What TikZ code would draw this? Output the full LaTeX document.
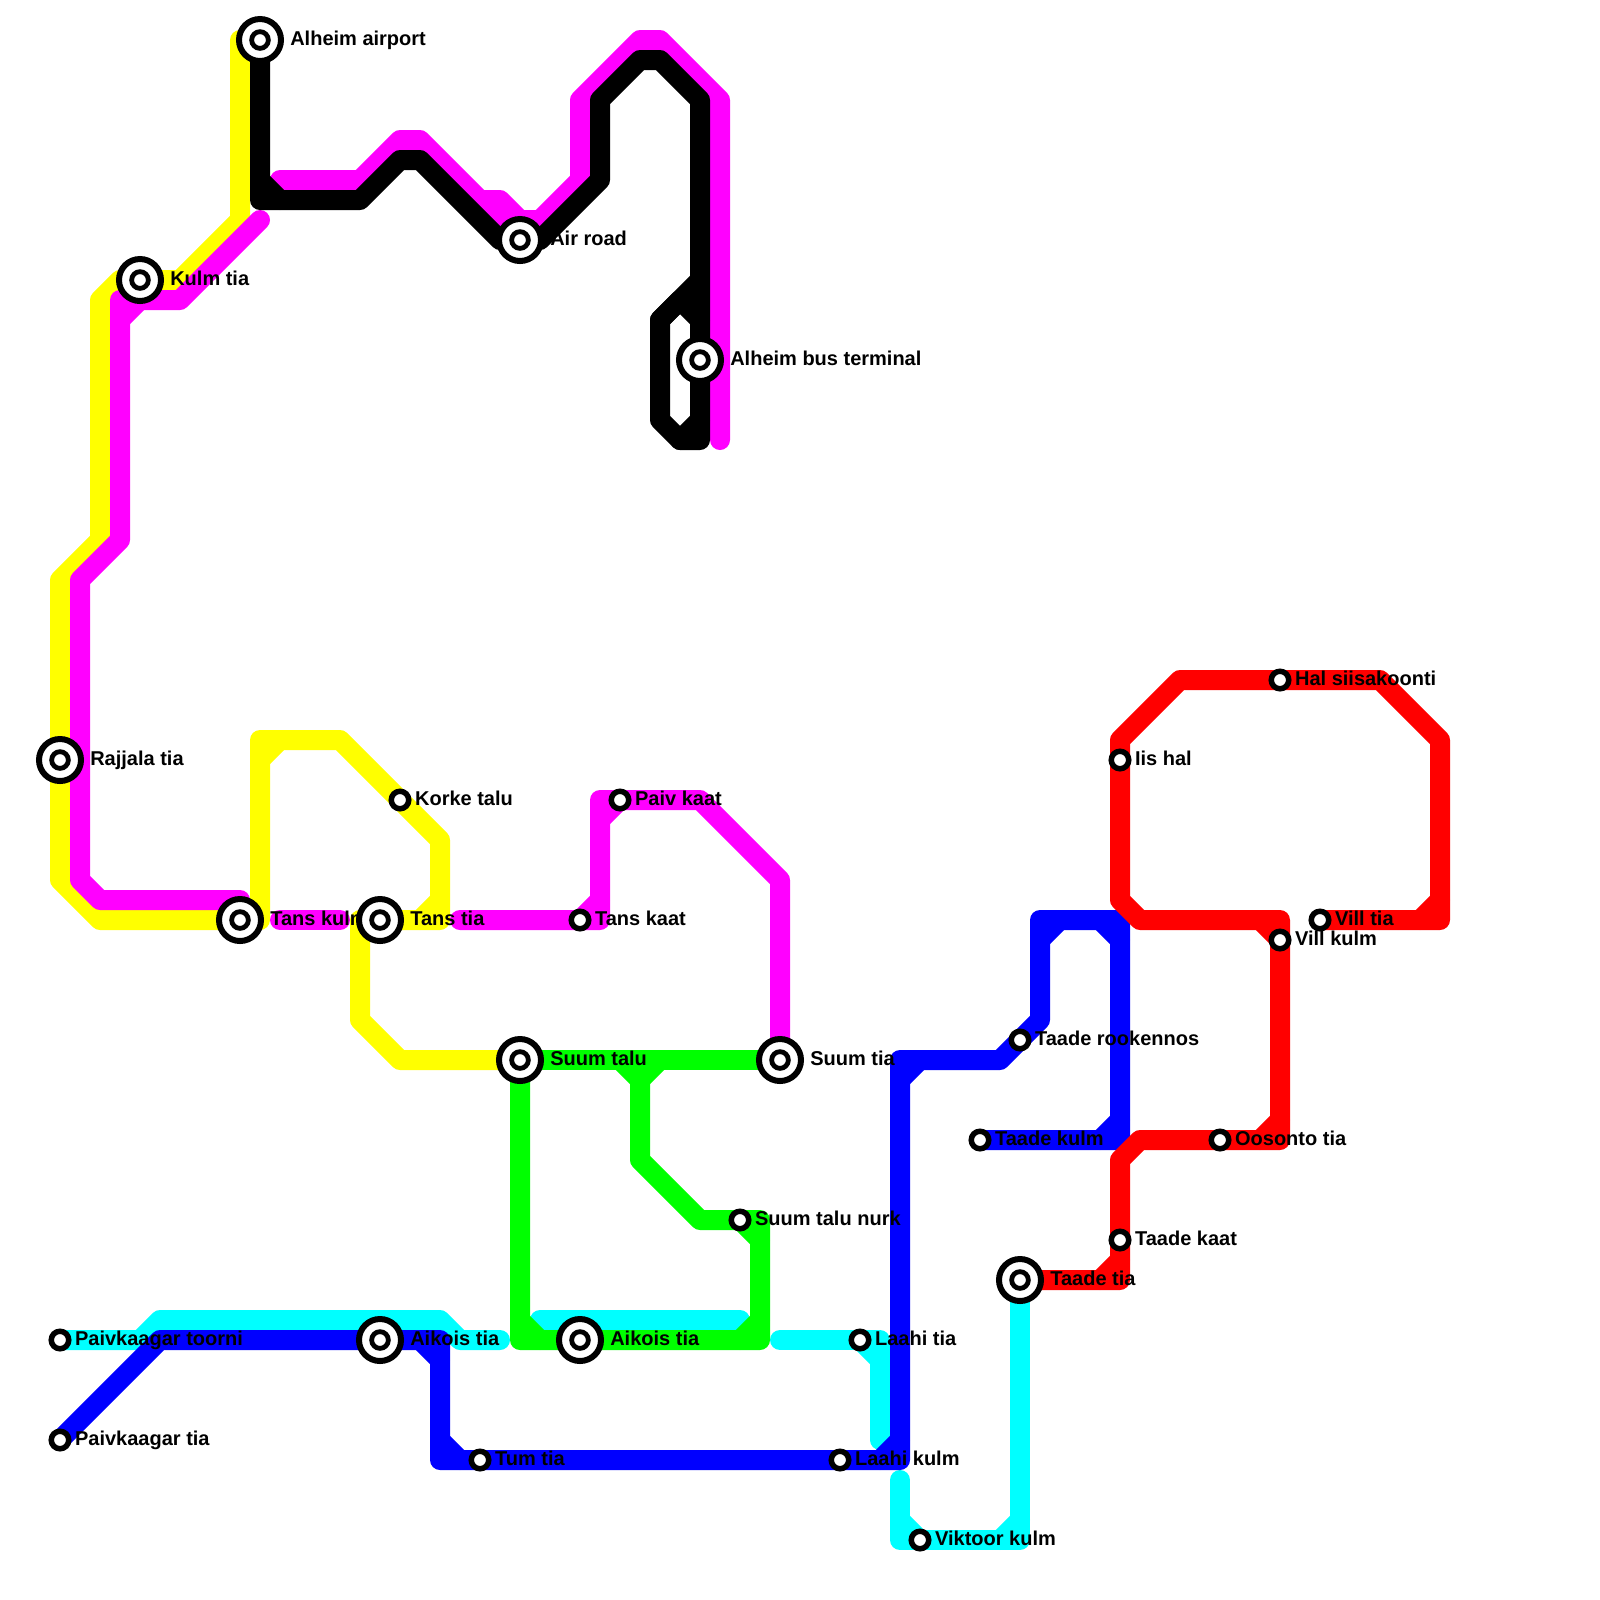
\documentclass[tikz,border=0pt]{standalone}
\usepackage{fontspec}
\setmainfont{Liberation Sans}
\usetikzlibrary{backgrounds}

\definecolor{lineyellow}{RGB}{255,255,0}
\definecolor{linemagenta}{RGB}{255,0,255}
\definecolor{linecyan}{RGB}{0,255,255}
\definecolor{lineblue}{RGB}{0,0,255}
\definecolor{linered}{RGB}{255,0,0}
\definecolor{linegreen}{RGB}{0,255,0}

\tikzset{
  route/.style={line width=0.2cm, line cap=round, line join=round},
  bigstop/.style={circle, draw=black, fill=white, line width=0.06cm, inner sep=0pt, outer sep=0pt, minimum size=0.42cm},
  bigcore/.style={circle, draw=black, fill=white, line width=0.048cm, inner sep=0pt, outer sep=0pt, minimum size=0.167cm},
  smallstop/.style={circle, draw=black, fill=white, line width=0.055cm, inner sep=0pt, outer sep=0pt, minimum size=0.175cm},
  stoplabel/.style={anchor=base west, inner sep=0pt, font=\bfseries\fontsize{5.69}{6}\selectfont},
}

\begin{document}
\begin{tikzpicture}[x=0.2cm, y=-0.2cm]
  \useasboundingbox (0,0) rectangle (80,80);

  % interchange stops
  \foreach \id/\sx/\sy/\txt in {airport/13/2/Alheim airport, kulmtia/7/14/Kulm tia,
      airroad/26/12/Air road, busterminal/35/18/Alheim bus terminal, rajjala/3/38/Rajjala tia,
      tanskulm/12/46/Tans kulm, tanstia/19/46/Tans tia, suumtalu/26/53/Suum talu,
      suumtia/39/53/Suum tia, aikoisa/19/67/Aikois tia, aikoisb/29/67/Aikois tia,
      taadetia/51/64/Taade tia} {
    \node[stoplabel] (\id-text) at (\sx+1.48,\sy+0.265) {\txt};
    \node[bigstop] (\id) at (\sx,\sy) {};
    \node[bigcore] (\id-core) at (\sx,\sy) {};
  }

  % plain stops
  \foreach \id/\sx/\sy/\txt in {korke/20/40/Korke talu, paivkaat/31/40/Paiv kaat,
      tanskaat/29/46/Tans kaat, rookennos/51/52/Taade rookennos, taadekulm/49/57/Taade kulm,
      iishal/56/38/Iis hal, halsiisa/64/34/Hal siisakoonti, villtia/66/46/Vill tia,
      villkulm/64/47/Vill kulm, oosonto/61/57/Oosonto tia, talunurk/37/61/Suum talu nurk,
      taadekaat/56/62/Taade kaat, laahitia/43/67/Laahi tia, laahikulm/42/73/Laahi kulm,
      tumtia/24/73/Tum tia, toorni/3/67/Paivkaagar toorni, paivtia/3/72/Paivkaagar tia,
      viktoor/46/77/Viktoor kulm} {
    \node[stoplabel] (\id-text) at (\sx+0.72,\sy+0.265) {\txt};
    \node[smallstop] (\id) at (\sx,\sy) {};
  }

  \begin{scope}[on background layer]
    % cyan lines
    \draw[route, linecyan] (toorni.center) -- (7,67) -- (8,66) -- (22,66) -- (23,67) -- (25,67);
    \draw[route, linecyan] (27,66) -- (37,66);
    \draw[route, linecyan] (39,67) -- (44,67) -- (44,72);
    \draw[route, linecyan] (43,67) -- (44,68);
    \draw[route, linecyan] (45,74) -- (45,77) -- (51,77) -- (taadetia.center);
    \draw[route, linecyan] (45,76) -- (46,77);
    \draw[route, linecyan] (51,76) -- (50,77);

    % yellow lines
    \draw[route, lineyellow] (12,2) -- (12,11) -- (9,14) -- (6,14) -- (5,15) -- (5,27) -- (3,29)
      -- (3,44) -- (5,46) -- (13,46) -- (13,37) -- (17,37) -- (22,42) -- (22,46) -- (tanstia.center);
    \draw[route, lineyellow] (13,38) -- (14,37);
    \draw[route, lineyellow] (22,45) -- (21,46);
    \draw[route, lineyellow] (tanstia.center) -- (18,46) -- (18,51) -- (20,53) -- (suumtalu.center);

    % magenta lines
    \draw[route, linemagenta] (14,9) -- (18,9) -- (20,7) -- (21,7) -- (24,10) -- (25,10) -- (26,11)
      -- (27,11) -- (29,9) -- (29,5) -- (32,2) -- (33,2) -- (36,5) -- (36,22);
    \draw[route, linemagenta] (24,10) -- (26,12);
    \draw[route, linemagenta] (13,11) -- (9,15) -- (6,15) -- (6,27) -- (4,29) -- (4,44) -- (5,45) -- (12,45);
    \draw[route, linemagenta] (7,15) -- (6,16);
    \draw[route, linemagenta] (14,46) -- (17,46);
    \draw[route, linemagenta] (23,46) -- (30,46) -- (30,40) -- (35,40) -- (39,44) -- (suumtia.center);
    \draw[route, linemagenta] (30,41) -- (31,40);
    \draw[route, linemagenta] (29,46) -- (30,45);

    % blue lines
    \draw[route, lineblue] (paivtia.center) -- (8,67) -- (22,67) -- (22,73) -- (45,73) -- (45,53)
      -- (50,53) -- (52,51) -- (52,46) -- (56,46) -- (56,57) -- (taadekulm.center);
    \draw[route, lineblue] (21,67) -- (22,68);
    \draw[route, lineblue] (22,72) -- (23,73);
    \draw[route, lineblue] (44,73) -- (45,72);
    \draw[route, lineblue] (45,54) -- (46,53);
    \draw[route, lineblue] (52,47) -- (53,46);
    \draw[route, lineblue] (55,46) -- (56,47);
    \draw[route, lineblue] (56,56) -- (55,57);

    % red lines
    \draw[route, linered] (taadetia.center) -- (56,64) -- (56,58) -- (57,57) -- (64,57) -- (64,46)
      -- (57,46) -- (56,45) -- (56,37) -- (59,34) -- (69,34) -- (72,37) -- (72,46) -- (villtia.center);
    \draw[route, linered] (56,63) -- (55,64);
    \draw[route, linered] (64,56) -- (63,57);
    \draw[route, linered] (63,46) -- (64,47);
    \draw[route, linered] (72,45) -- (71,46);

    % green lines
    \draw[route, linegreen] (suumtalu.center) -- (suumtia.center);
    \draw[route, linegreen] (suumtalu.center) -- (26,67) -- (38,67) -- (38,61) -- (35,61) -- (32,58) -- (32,53);
    \draw[route, linegreen] (26,66) -- (27,67);
    \draw[route, linegreen] (38,66) -- (37,67);
    \draw[route, linegreen] (37,61) -- (38,62);
    \draw[route, linegreen] (31,53) -- (32,54) -- (33,53);

    % black line
    \draw[route, black] (airport.center) -- (13,10) -- (18,10) -- (20,8) -- (21,8) -- (25,12)
      -- (27,12) -- (30,9) -- (30,5) -- (32,3) -- (33,3) -- (35,5) -- (35,22) -- (34,22) -- (33,21)
      -- (33,16) -- (35,14);
    \draw[route, black] (13,9) -- (14,10);
    \draw[route, black] (33,16) -- (34,15) -- (35,16);
    \draw[route, black] (35,21) -- (34,22);
  \end{scope}
\end{tikzpicture}
\end{document}
